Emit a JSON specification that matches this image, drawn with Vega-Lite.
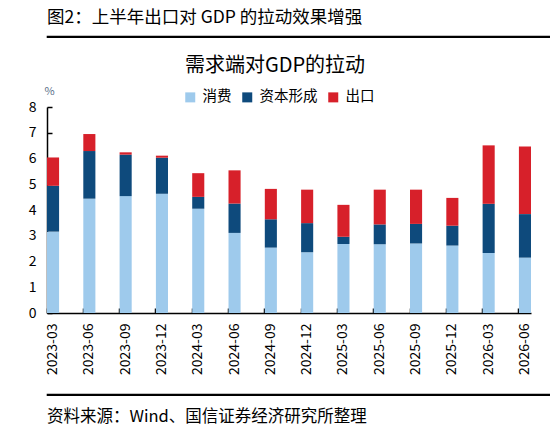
{
  "$schema": "https://vega.github.io/schema/vega-lite/v6.json",
  "padding": {"left": 4, "top": 7, "right": 0, "bottom": 0},
  "spacing": 18,
  "resolve": {"legend": {"color": "independent"}, "scale": {"color": "independent"}},
  "vconcat": [
    {
      "title": {"text": "图2：上半年出口对 GDP 的拉动效果增强", "anchor": "start", "fontSize": 17.5, "fontWeight": "normal", "offset": 10},
      "width": 540,
      "height": 1,
      "view": {"stroke": "black", "strokeWidth": 1.2},
      "data": {"values": []},
      "mark": "point",
      "encoding": {}
    },
    {
      "title": {"text": "需求端对GDP的拉动", "anchor": "middle", "frame": "group", "dx": -14, "fontSize": 20, "fontWeight": "normal", "offset": 9},
      "width": 484,
      "height": 206,
      "data": {
        "values": [
          {"q": "2023-03", "item": "消费", "v": 3.16}, {"q": "2023-03", "item": "资本形成", "v": 1.78}, {"q": "2023-03", "item": "出口", "v": 1.10},
          {"q": "2023-06", "item": "消费", "v": 4.44}, {"q": "2023-06", "item": "资本形成", "v": 1.85}, {"q": "2023-06", "item": "出口", "v": 0.66},
          {"q": "2023-09", "item": "消费", "v": 4.54}, {"q": "2023-09", "item": "资本形成", "v": 1.61}, {"q": "2023-09", "item": "出口", "v": 0.09},
          {"q": "2023-12", "item": "消费", "v": 4.63}, {"q": "2023-12", "item": "资本形成", "v": 1.40}, {"q": "2023-12", "item": "出口", "v": 0.08},
          {"q": "2024-03", "item": "消费", "v": 4.05}, {"q": "2024-03", "item": "资本形成", "v": 0.46}, {"q": "2024-03", "item": "出口", "v": 0.92},
          {"q": "2024-06", "item": "消费", "v": 3.11}, {"q": "2024-06", "item": "资本形成", "v": 1.14}, {"q": "2024-06", "item": "出口", "v": 1.29},
          {"q": "2024-09", "item": "消费", "v": 2.54}, {"q": "2024-09", "item": "资本形成", "v": 1.10}, {"q": "2024-09", "item": "出口", "v": 1.18},
          {"q": "2024-12", "item": "消费", "v": 2.36}, {"q": "2024-12", "item": "资本形成", "v": 1.13}, {"q": "2024-12", "item": "出口", "v": 1.30},
          {"q": "2025-03", "item": "消费", "v": 2.68}, {"q": "2025-03", "item": "资本形成", "v": 0.28}, {"q": "2025-03", "item": "出口", "v": 1.24},
          {"q": "2025-06", "item": "消费", "v": 2.67}, {"q": "2025-06", "item": "资本形成", "v": 0.77}, {"q": "2025-06", "item": "出口", "v": 1.35},
          {"q": "2025-09", "item": "消费", "v": 2.70}, {"q": "2025-09", "item": "资本形成", "v": 0.76}, {"q": "2025-09", "item": "出口", "v": 1.33},
          {"q": "2025-12", "item": "消费", "v": 2.62}, {"q": "2025-12", "item": "资本形成", "v": 0.77}, {"q": "2025-12", "item": "出口", "v": 1.08},
          {"q": "2026-03", "item": "消费", "v": 2.33}, {"q": "2026-03", "item": "资本形成", "v": 1.91}, {"q": "2026-03", "item": "出口", "v": 2.27},
          {"q": "2026-06", "item": "消费", "v": 2.15}, {"q": "2026-06", "item": "资本形成", "v": 1.69}, {"q": "2026-06", "item": "出口", "v": 2.63}
        ]
      },
      "transform": [
        {"calculate": "indexof(['消费', '资本形成', '出口'], datum.item)", "as": "rank"}
      ],
      "mark": {"type": "bar"},
      "encoding": {
        "x": {
          "field": "q",
          "type": "ordinal",
          "scale": {"paddingInner": 0.667, "paddingOuter": 0, "align": 0},
          "axis": {
            "title": null,
            "labelAngle": -90,
            "labelFontSize": 14,
            "labelColor": "black",
            "labelPadding": 15,
            "tickSize": -5,
            "bandPosition": 0,
            "tickColor": "black",
            "tickWidth": 1.5,
            "domainColor": "black",
            "domainWidth": 1.5
          }
        },
        "y": {
          "field": "v",
          "type": "quantitative",
          "aggregate": "sum",
          "stack": "zero",
          "scale": {"domain": [0, 8], "nice": false},
          "axis": {
            "values": [0, 1, 2, 3, 4, 5, 6, 7, 8],
            "grid": false,
            "title": "%",
            "titleAngle": 0,
            "titleX": 2,
            "titleY": -16,
            "titleAlign": "center",
            "titleBaseline": "middle",
            "titleFontSize": 11,
            "titleFontWeight": "normal",
            "titleColor": "#5b7089",
            "labelFontSize": 14,
            "labelColor": "black",
            "labelPadding": 16,
            "tickSize": -5,
            "tickColor": "black",
            "tickWidth": 1.5,
            "domainColor": "black",
            "domainWidth": 1.5,
            "minExtent": 42.7
          }
        },
        "color": {
          "field": "item",
          "type": "nominal",
          "scale": {"domain": ["消费", "资本形成", "出口"], "range": ["#9ecaec", "#0e4a7c", "#d7202a"]},
          "legend": {
            "title": null,
            "orient": "none",
            "direction": "horizontal",
            "legendX": 136,
            "legendY": -17,
            "symbolType": "square",
            "symbolSize": 100,
            "symbolStrokeWidth": 0,
            "labelFontSize": 14.5,
            "labelColor": "black",
            "labelOffset": 5,
            "columnPadding": 8
          }
        },
        "order": {"field": "rank", "type": "quantitative"}
      }
    },
    {
      "title": {"text": "资料来源：Wind、国信证券经济研究所整理", "orient": "bottom", "anchor": "start", "fontSize": 16.5, "fontWeight": "normal", "offset": 14},
      "width": 540,
      "height": 1,
      "view": {"stroke": "black", "strokeWidth": 1.2},
      "data": {"values": []},
      "mark": "point",
      "encoding": {}
    }
  ],
  "config": {
    "font": "Noto Sans CJK SC",
    "view": {"stroke": null},
    "title": {"color": "black"}
  }
}
